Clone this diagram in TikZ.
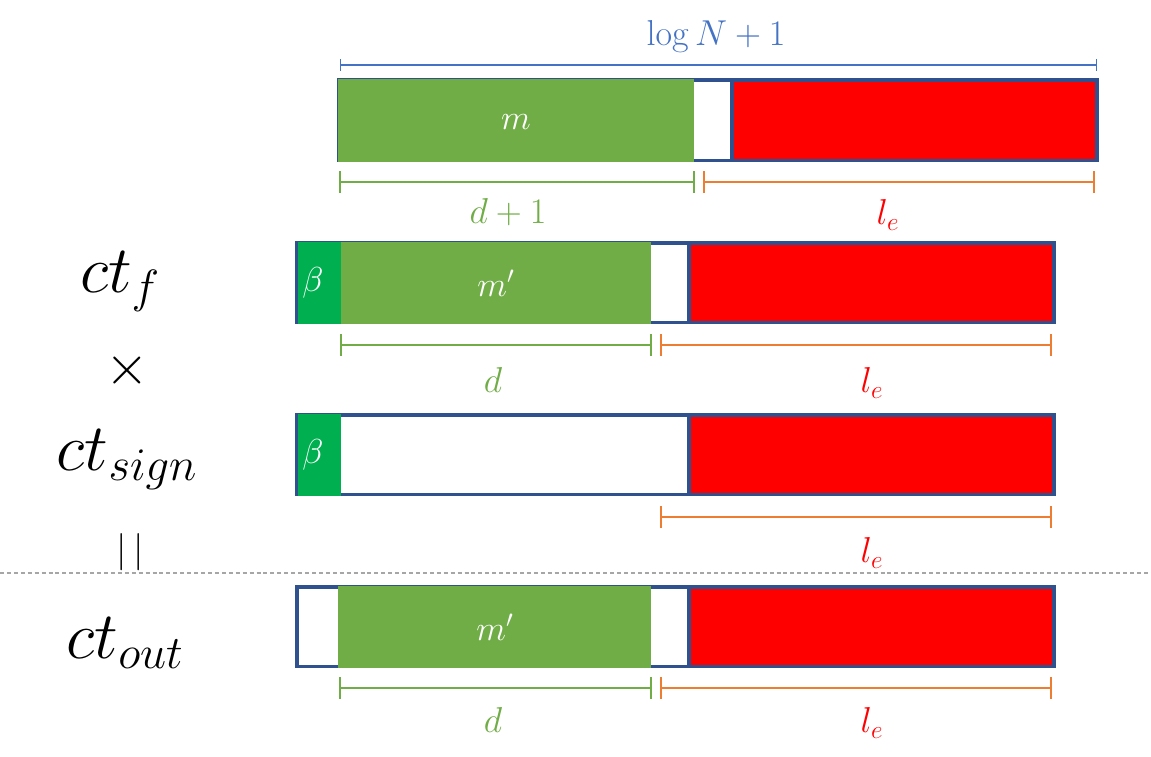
\RequirePackage{fix-cm}
\documentclass[tikz,border=0pt]{standalone}
\usetikzlibrary{arrows.meta}
\definecolor{mgreen}{HTML}{70AD47}
\definecolor{bgreen}{HTML}{00B050}
\definecolor{mred}{HTML}{FF0000}
\definecolor{mborder}{HTML}{2F528F}
\definecolor{mblue}{HTML}{4472C4}
\definecolor{morange}{HTML}{ED7D31}
\definecolor{mgray}{HTML}{A6A6A6}
\tikzset{
  frame/.style={draw=mborder, line width=2.4pt},
  redbox/.style={draw=mborder, line width=2.4pt, fill=mred},
  dimg/.style={draw=mgreen, line width=1.5pt, {Bar[width=16pt,line width=1.5pt]}-{Bar[width=16pt,line width=1.5pt]}},
  dimo/.style={draw=morange, line width=1.5pt, {Bar[width=16pt,line width=1.5pt]}-{Bar[width=16pt,line width=1.5pt]}},
  dimb/.style={draw=mblue, line width=1.1pt, {Bar[width=9pt,line width=1.1pt]}-{Bar[width=9pt,line width=1.1pt]}},
  inlbl/.style={text=white, font=\fontsize{26}{30}\selectfont, inner sep=0pt},
  dimlbl/.style={font=\fontsize{27}{31}\selectfont, inner sep=0pt},
  bigl/.style={font=\fontsize{50}{60}\selectfont, inner sep=0pt}
}
\begin{document}
\begin{tikzpicture}[x=0.75pt,y=-0.75pt]
\useasboundingbox (0,0) rectangle (1151,756);
% ---------- row 1 ----------
\draw[frame] (339,80) rectangle (1097,160.5);
\draw[redbox] (732,80) rectangle (1097,160.5);
\fill[mgreen] (338,78.9) rectangle (694,161.6);
\node[inlbl] (m1) at (516,122) {$m$};
\coordinate (b1l) at (340,65); \coordinate (b1r) at (1097,65);
\draw[dimb] (b1l) -- (b1r);
\node[dimlbl, text=mblue] (logN) at (716,37) {$\log N+1$};
\coordinate (g1l) at (339,182); \coordinate (g1r) at (695,182);
\coordinate (o1l) at (703,182); \coordinate (o1r) at (1095,182);
\draw[dimg] (g1l) -- (g1r);
\draw[dimo] (o1l) -- (o1r);
\node[dimlbl, text=mgreen] (d1) at (508,212) {$d+1$};
\node[dimlbl, text=mred] (le1) at (888,215) {$l_e$};
% ---------- row 2 ----------
\draw[frame] (297,243) rectangle (1054,322.5);
\draw[redbox] (689,243) rectangle (1054,322.5);
\fill[bgreen] (297.5,242) rectangle (341,323.6);
\fill[mgreen] (341,242) rectangle (651,323.6);
\node[inlbl] (beta1) at (313,283) {$\beta$};
\node[inlbl] (mp1) at (496,283) {$m'$};
\coordinate (g2l) at (340,345); \coordinate (g2r) at (652,345);
\coordinate (o2l) at (660,345); \coordinate (o2r) at (1052,345);
\draw[dimg] (g2l) -- (g2r);
\draw[dimo] (o2l) -- (o2r);
\node[dimlbl, text=mgreen] (d2) at (493,380) {$d$};
\node[dimlbl, text=mred] (le2) at (872,383) {$l_e$};
% ---------- row 3 ----------
\draw[frame] (297,415) rectangle (1054,494.5);
\draw[redbox] (689,415) rectangle (1054,494.5);
\fill[bgreen] (297.5,414) rectangle (341,495.6);
\node[inlbl] (beta2) at (313,455) {$\beta$};
\coordinate (o3l) at (660,517); \coordinate (o3r) at (1052,517);
\draw[dimo] (o3l) -- (o3r);
\node[dimlbl, text=mred] (le3) at (872,553) {$l_e$};
% ---------- separator ----------
\coordinate (sepl) at (0,573); \coordinate (sepr) at (1151,573);
\draw[mgray, line width=0.8pt, dash pattern=on 3pt off 2.2pt] (sepl) -- (sepr);
% ---------- row 4 ----------
\draw[frame] (297,587) rectangle (1054,666.5);
\draw[redbox] (689,587) rectangle (1054,666.5);
\fill[mgreen] (338,585.9) rectangle (651,667.6);
\node[inlbl] (mp2) at (495,627) {$m'$};
\coordinate (g4l) at (339,688); \coordinate (g4r) at (652,688);
\coordinate (o4l) at (660,688); \coordinate (o4r) at (1052,688);
\draw[dimg] (g4l) -- (g4r);
\draw[dimo] (o4l) -- (o4r);
\node[dimlbl, text=mgreen] (d4) at (493,720) {$d$};
\node[dimlbl, text=mred] (le4) at (872,723) {$l_e$};
% ---------- left labels ----------
\node[bigl] (ctf) at (120,282) {$ct_f$};
\node[inlbl, text=black, font=\fontsize{42}{46}\selectfont] (times) at (127,370) {$\times$};
\node[bigl] (ctsign) at (127,460) {$ct_{sign}$};
\node[inlbl, text=black, font=\fontsize{28}{32}\selectfont] (eq) at (130,552) {$|\,|$};
\node[bigl] (ctout) at (125,643) {$ct_{out}$};
\end{tikzpicture}
\end{document}
